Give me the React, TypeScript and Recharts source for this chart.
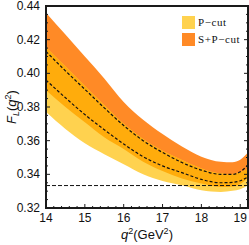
import React from 'react';
import { Area, ComposedChart, Legend, Line, ReferenceLine, XAxis, YAxis } from 'recharts';

// q^2 grid (GeV^2)
const q2 = [14, 14.5, 15, 15.5, 16, 16.5, 17, 17.5, 18, 18.5, 18.8, 19, 19.2];
// S+P-cut band
const spMid = [0.413, 0.4015, 0.3905, 0.3795, 0.369, 0.36, 0.353, 0.347, 0.3425, 0.34, 0.34, 0.3415, 0.3455];
const spLow = [0.39, 0.38, 0.371, 0.362, 0.355, 0.3475, 0.342, 0.3375, 0.3345, 0.3325, 0.3328, 0.3343, 0.338];
const spHigh = [0.436, 0.423, 0.41, 0.397, 0.383, 0.3725, 0.364, 0.3565, 0.3505, 0.3475, 0.3472, 0.3487, 0.353];
// P-cut band
const pMid = [0.396, 0.3855, 0.3755, 0.3665, 0.358, 0.3505, 0.345, 0.341, 0.337, 0.335, 0.3352, 0.3362, 0.3385];
const pLow = [0.377, 0.367, 0.3585, 0.352, 0.346, 0.34, 0.336, 0.3335, 0.3305, 0.3295, 0.3302, 0.3312, 0.3335];
const pHigh = [0.4155, 0.404, 0.3925, 0.381, 0.37, 0.361, 0.354, 0.3485, 0.3435, 0.3405, 0.3402, 0.3412, 0.3435];

const xMajor = [14, 15, 16, 17, 18, 19];
const yMajor = [0.32, 0.34, 0.36, 0.38, 0.4, 0.42, 0.44];
const xDomain = [14, 19.2];
const yDomain = [0.32, 0.44];
const asymptote = 1 / 3;

const YELLOW = '#ffd24f';
const ORANGE = '#ff8a26';
const AMBER = '#ffac0c';
const FRAME = '#1a1a1a';

// plot box inside the svg
const PLOT = { left: 46, top: 6, width: 202, height: 202 };

const data = q2.map((q, i) => ({
  q,
  sp: [spLow[i], spHigh[i]],
  p: [pLow[i], pHigh[i]],
  both: [Math.max(spLow[i], pLow[i]), Math.min(spHigh[i], pHigh[i])],
  spMid: spMid[i],
  pMid: pMid[i],
}));

const xTicks: number[] = [];
for (let i = 0; i <= 26; i++) xTicks.push(Math.round((14 + i * 0.2) * 10) / 10);
const yTicks: number[] = [];
for (let i = 0; i <= 24; i++) yTicks.push(Math.round((0.32 + i * 0.005) * 1000) / 1000);

const isMajorX = (v: number) => xMajor.includes(v);
const isMajorY = (v: number) => yMajor.some((m) => Math.abs(m - v) < 1e-6);

const font = '"Liberation Sans", Arial, sans-serif';

const FrameTick = (props: any) => {
  const { x, y, payload, side } = props;
  const v = payload.value;
  const major = side === 'bottom' || side === 'top' ? isMajorX(v) : isMajorY(v);
  const len = major ? 4 : 2;
  let line;
  if (side === 'bottom') line = <line x1={x} x2={x} y1={y} y2={y - len} />;
  else if (side === 'top') line = <line x1={x} x2={x} y1={y} y2={y + len} />;
  else if (side === 'left') line = <line x1={x} x2={x + len} y1={y} y2={y} />;
  else line = <line x1={x} x2={x - len} y1={y} y2={y} />;
  return (
    <g>
      <g stroke={FRAME} strokeWidth={1}>{line}</g>
      {major && side === 'bottom' ? (
        <text x={x} y={y + 14} textAnchor="middle" fontSize={12} fontFamily={font} fill="#111">
          {v}
        </text>
      ) : null}
      {major && side === 'left' ? (
        <text x={x - 6} y={y + 4} textAnchor="end" fontSize={12} fontFamily={font} fill="#111">
          {v.toFixed(2)}
        </text>
      ) : null}
    </g>
  );
};

const YLabel = () => (
  <text
    transform="translate(16,107) rotate(-90)"
    textAnchor="middle"
    fontSize={13}
    fontFamily={font}
    fill="#111"
  >
    <tspan fontStyle="italic">F</tspan>
    <tspan fontStyle="italic" fontSize={9} dy={3}>L</tspan>
    <tspan dy={-3}>(</tspan>
    <tspan fontStyle="italic">q</tspan>
    <tspan fontSize={9} dy={-5}>2</tspan>
    <tspan dy={5}>)</tspan>
  </text>
);

const XLabel = () => (
  <text x={147} y={239} textAnchor="middle" fontSize={13} fontFamily={font} fill="#111">
    <tspan fontStyle="italic">q</tspan>
    <tspan fontSize={9} dy={-5}>2</tspan>
    <tspan dy={5}>(GeV</tspan>
    <tspan fontSize={9} dy={-5}>2</tspan>
    <tspan dy={5}>)</tspan>
  </text>
);

const legendItems = [
  { name: 'P−cut', color: YELLOW },
  { name: 'S+P−cut', color: ORANGE },
];

const LegendBox = () => (
  <svg width={66} height={34}>
    {legendItems.map((item, i) => (
      <g key={item.name}>
        <rect x={0} y={1 + i * 17} width={13} height={13} fill={item.color} />
        <text
          x={16}
          y={11 + i * 17}
          fontSize={11}
          letterSpacing={0.6}
          fontFamily='"Liberation Serif", "Times New Roman", serif'
          fill="#111"
        >
          {item.name}
        </text>
      </g>
    ))}
  </svg>
);

const axisCommon = {
  type: 'number' as const,
  interval: 0 as const,
  tickSize: 0,
  tickMargin: 0,
  tickLine: false,
  axisLine: false,
  allowDataOverflow: true,
};

export default function App() {
  return (
    <div style={{ position: 'absolute', left: 0, top: 0, width: 249, height: 245 }}>
      <ComposedChart width={249} height={245} data={data} margin={{ top: PLOT.top, right: 0, bottom: 0, left: 0 }}>
        <Area xAxisId="b" yAxisId="l" type="monotone" dataKey="sp" fill={ORANGE} fillOpacity={1} stroke="none" isAnimationActive={false} />
        <Area xAxisId="b" yAxisId="l" type="monotone" dataKey="p" fill={YELLOW} fillOpacity={1} stroke="none" isAnimationActive={false} />
        <Area xAxisId="b" yAxisId="l" type="monotone" dataKey="both" fill={AMBER} fillOpacity={1} stroke="none" isAnimationActive={false} />
        <Line xAxisId="b" yAxisId="l" type="monotone" dataKey="spMid" stroke="#111" strokeWidth={1.2} strokeDasharray="3 2" dot={false} isAnimationActive={false} />
        <Line xAxisId="b" yAxisId="l" type="monotone" dataKey="pMid" stroke="#111" strokeWidth={1.2} strokeDasharray="3 2" dot={false} isAnimationActive={false} />
        <ReferenceLine xAxisId="b" yAxisId="l" y={asymptote} stroke="#111" strokeWidth={1} strokeDasharray="4 2" />
        <XAxis xAxisId="b" dataKey="q" domain={xDomain} ticks={xTicks} height={37} tick={<FrameTick side="bottom" />} {...axisCommon} />
        <XAxis xAxisId="t" orientation="top" dataKey="q" domain={xDomain} ticks={xTicks} height={0} tick={<FrameTick side="top" />} {...axisCommon} />
        <YAxis yAxisId="l" domain={yDomain} ticks={yTicks} width={PLOT.left} tick={<FrameTick side="left" />} {...axisCommon} />
        <YAxis yAxisId="r" orientation="right" domain={yDomain} ticks={yTicks} width={1} tick={<FrameTick side="right" />} {...axisCommon} />
        <Legend
          layout="horizontal"
          verticalAlign="middle"
          align="center"
          content={<LegendBox />}
          wrapperStyle={{ left: 182, top: 15, width: 66, height: 34 }}
        />
        <YLabel />
        <XLabel />
      </ComposedChart>
      {/* plot frame drawn over the chart */}
      <svg
        width={249}
        height={245}
        style={{ position: 'absolute', left: 0, top: 0, pointerEvents: 'none' }}
      >
        <rect
          x={PLOT.left}
          y={PLOT.top}
          width={PLOT.width}
          height={PLOT.height}
          fill="none"
          stroke={FRAME}
          strokeWidth={2}
        />
      </svg>
    </div>
  );
}
